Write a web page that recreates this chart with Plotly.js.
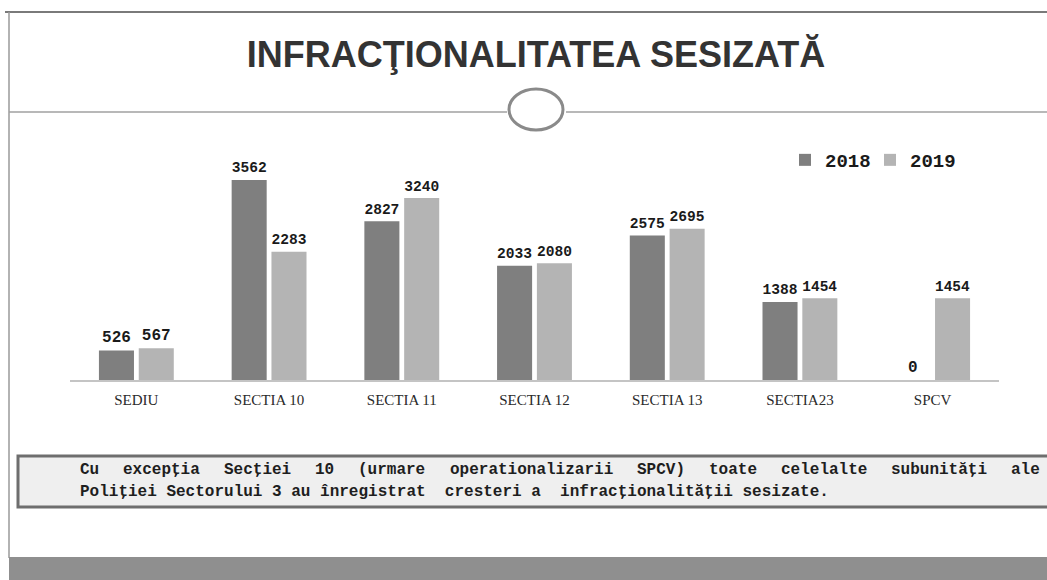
<!DOCTYPE html>
<html>
<head>
<meta charset="utf-8">
<script src="https://cdn.plot.ly/plotly-3.0.1.min.js"></script>
<style>
html,body{margin:0;padding:0;background:#fff;}
#chart{width:1047px;height:580px;}
</style>
</head>
<body>
<div id="chart"></div>
<script>
const categories = ["SEDIU", "SECTIA 10", "SECTIA 11", "SECTIA 12", "SECTIA 13", "SECTIA23", "SPCV"];
const values2018 = [526, 3562, 2827, 2033, 2575, 1388, 0];
const values2019 = [567, 2283, 3240, 2080, 2695, 1454, 1454];
const seriesNames = ["2018", "2019"];
const titleText = "INFRACŢIONALITATEA SESIZATĂ";
const noteLine1 = "Cu excepţia Secţiei 10 (urmare operationalizarii SPCV) toate celelalte subunităţi ale";
const noteLine2 = "Poliţiei Sectorului 3 au înregistrat  cresteri a  infracţionalităţii sesizate.";

const W = 1047, H = 580;
const M = {l: 70, r: 48, t: 150, b: 200, autoexpand: false};
const PW = W - M.l - M.r, PH = H - M.t - M.b;
const px = v => (v - M.l) / PW;
const py = v => (H - M.b - v) / PH;

const SLAB = "Liberation Mono, monospace";
const SERIF = "Liberation Serif, serif";
const labelFont = {family: SLAB, size: 16, color: "#1a1a1a", weight: "bold"};
const noteFont = {family: SLAB, size: 16, color: "#1e1e1e", weight: "bold"};

const traces = [
  {type: "bar", name: seriesNames[0], x: categories, y: values2018,
   marker: {color: "#7f7f7f"}, text: values2018.map(String), textposition: "outside",
   textfont: labelFont, cliponaxis: false, hoverinfo: "x+y"},
  {type: "bar", name: seriesNames[1], x: categories, y: values2019,
   marker: {color: "#b4b4b4"}, text: values2019.map(String), textposition: "outside",
   textfont: labelFont, cliponaxis: false, hoverinfo: "x+y"}
];

const shapes = [
  {type: "line", xref: "paper", yref: "paper", x0: px(5), x1: px(1047), y0: py(12), y1: py(12), line: {color: "#7a7a7a", width: 2}},
  {type: "line", xref: "paper", yref: "paper", x0: px(9), x1: px(9), y0: py(12), y1: py(558), line: {color: "#9a9a9a", width: 1.5}},
  {type: "line", xref: "paper", yref: "paper", x0: px(9), x1: px(507), y0: py(112), y1: py(112), line: {color: "#a0a0a0", width: 1.5}},
  {type: "line", xref: "paper", yref: "paper", x0: px(566), x1: px(1047), y0: py(112), y1: py(112), line: {color: "#a0a0a0", width: 1.5}},
  {type: "circle", xref: "paper", yref: "paper", x0: px(509), x1: px(563), y0: py(89), y1: py(130), line: {color: "#8a8a8a", width: 3}},
  {type: "rect", xref: "paper", yref: "paper", x0: px(18), x1: px(1050), y0: py(456), y1: py(507), fillcolor: "#efefef", line: {color: "#6e6e6e", width: 3}},
  {type: "rect", xref: "paper", yref: "paper", x0: px(9), x1: px(1050), y0: py(557), y1: py(582), fillcolor: "#8f8f8f", line: {width: 0}}
];

// First note line is justified across the box, as in the slide
const annotations = [];
function spreadLine(text, left, right, yPix) {
  const ctx = document.createElement("canvas").getContext("2d");
  ctx.font = "bold 16px 'Liberation Mono'";
  const words = text.split(" ");
  const widths = words.map(w => ctx.measureText(w).width);
  const total = widths.reduce((a, b) => a + b, 0);
  const gap = (right - left - total) / (words.length - 1);
  let x = left;
  words.forEach((w, i) => {
    annotations.push({xref: "paper", yref: "paper", x: px(x), y: py(yPix), xanchor: "left", yanchor: "middle",
      showarrow: false, text: w, font: noteFont, borderpad: 0, borderwidth: 0});
    x += widths[i] + gap;
  });
}
spreadLine(noteLine1, 80, 1040, 470);
annotations.push({xref: "paper", yref: "paper", x: px(80), y: py(492), xanchor: "left", yanchor: "middle", showarrow: false,
  text: noteLine2.replace(/  /g, " \u00a0"), font: noteFont, borderpad: 0, borderwidth: 0});

const layout = {
  width: W, height: H,
  margin: M,
  paper_bgcolor: "#ffffff", plot_bgcolor: "#ffffff",
  title: {text: titleText, x: 536 / W, xanchor: "center", y: 1 - 54 / H, yanchor: "middle",
          font: {family: "Liberation Sans", size: 36, color: "#333333", weight: "bold"}},
  barmode: "group", bargap: 0.4, bargroupgap: 0.12,
  showlegend: true,
  legend: {orientation: "h", x: px(785), xanchor: "left", y: py(160), yanchor: "middle",
           entrywidth: 40, entrywidthmode: "pixels",
           font: {family: SLAB, size: 19, color: "#1a1a1a", weight: "bold"},
           bgcolor: "rgba(0,0,0,0)", traceorder: "normal"},
  xaxis: {type: "category", showline: true, linecolor: "#c4c4c4", linewidth: 2, showgrid: false, ticks: "",
          ticklabelstandoff: 5,
          tickfont: {family: SERIF, size: 15, color: "#2a2a2a"}, fixedrange: true},
  yaxis: {range: [0, 4096], visible: false, showgrid: false, zeroline: false, fixedrange: true},
  shapes: shapes,
  annotations: annotations
};

Plotly.newPlot("chart", traces, layout, {displayModeBar: false, staticPlot: true});
</script>
</body>
</html>
